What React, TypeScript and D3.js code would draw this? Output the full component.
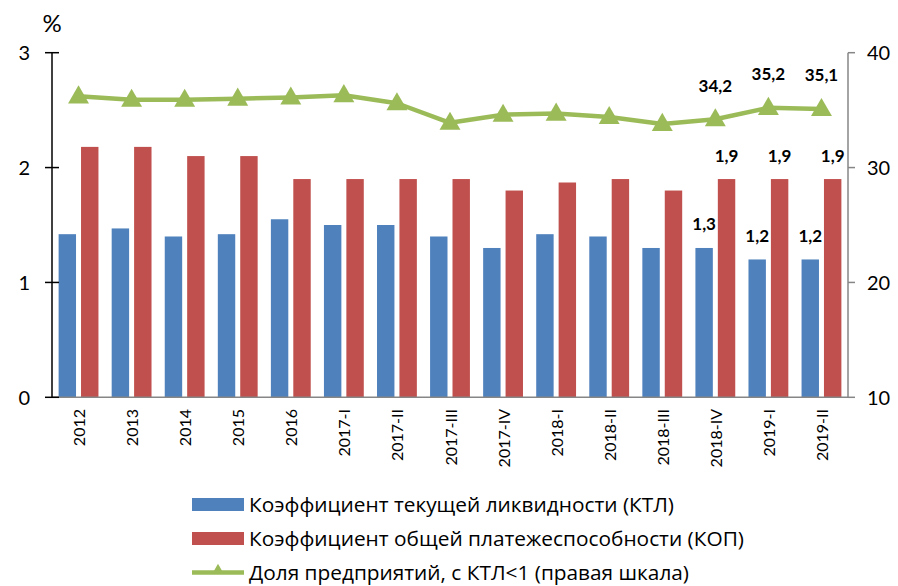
import React from "react";
import * as d3 from "d3";

const categories = ["2012","2013","2014","2015","2016","2017-I","2017-II","2017-III","2017-IV","2018-I","2018-II","2018-III","2018-IV","2019-I","2019-II"];
const ktl = [1.42,1.47,1.40,1.42,1.55,1.50,1.50,1.40,1.30,1.42,1.40,1.30,1.30,1.20,1.20];
const kop = [2.18,2.18,2.10,2.10,1.90,1.90,1.90,1.90,1.80,1.87,1.90,1.80,1.90,1.90,1.90];
const share = [36.2,35.9,35.9,36.0,36.1,36.3,35.6,33.9,34.6,34.7,34.4,33.8,34.2,35.2,35.1];
const ktlLabels = ["","","","","","","","","","","","","1,3","1,2","1,2"];
const kopLabels = ["","","","","","","","","","","","","1,9","1,9","1,9"];
const shareLabels = ["","","","","","","","","","","","","34,2","35,2","35,1"];
const leftTicks = [0,1,2,3];
const rightTicks = [10,20,30,40];
const legendItems = [
  "Коэффициент текущей ликвидности (КТЛ)",
  "Коэффициент общей платежеспособности (КОП)",
  "Доля предприятий, с КТЛ<1 (правая шкала)",
];
const legendWidths = [425, 495, 440];

const BLUE = "#4F81BD";
const RED = "#C0504D";
const GREEN = "#9BBB59";
const FONT = "Lato, 'Open Sans', sans-serif";
const LEGEND_FONT = "'Open Sans', 'Noto Sans', sans-serif";

export default function App() {
  const W = 898, H = 586;
  const x0 = 52, x1 = 848, yTop = 52.7, yBot = 397.3;
  const x = d3.scaleBand<string>().domain(categories).range([x0, x1]).padding(0);
  const inner = d3.scaleBand<string>().domain(["ktl","kop"]).range([0, x.bandwidth()]).paddingInner(0.223).paddingOuter(0.295);
  const yL = d3.scaleLinear().domain([0,3]).range([yBot, yTop]);
  const yR = d3.scaleLinear().domain([10,40]).range([yBot, yTop]);
  const line = d3.line<number>().x((_, i) => x(categories[i])! + x.bandwidth()/2).y(d => yR(d));
  const tri = d3.symbol().type(d3.symbolTriangle).size(190);
  const triSmall = d3.symbol().type(d3.symbolTriangle).size(60);

  return (
    <svg width={W} height={H} style={{position:"absolute", left:0, top:0}} fontFamily={FONT}>
      <rect width={W} height={H} fill="#fff" />
      {/* bars */}
      {categories.map((c, i) => (
        <g key={c}>
          <rect x={x(c)! + inner("ktl")!} y={yL(ktl[i])} width={inner.bandwidth()} height={yL(0) - yL(ktl[i])} fill={BLUE} />
          <rect x={x(c)! + inner("kop")!} y={yL(kop[i])} width={inner.bandwidth()} height={yL(0) - yL(kop[i])} fill={RED} />
          {ktlLabels[i] && <text x={x(c)! + inner("ktl")! + inner.bandwidth()/2} y={yL(ktl[i]) - 17.5} textAnchor="middle" fontSize={17} fontWeight="bold">{ktlLabels[i]}</text>}
          {kopLabels[i] && <text x={x(c)! + inner("kop")! + inner.bandwidth()/2} y={yL(kop[i]) - 17.5} textAnchor="middle" fontSize={17} fontWeight="bold">{kopLabels[i]}</text>}
        </g>
      ))}
      {/* bottom axis */}
      <line x1={x0} x2={x1} y1={yBot} y2={yBot} stroke="#868686" strokeWidth={1.5} />
      {/* left axis */}
      <line x1={x0} x2={x0} y1={yTop} y2={yBot} stroke="#000" strokeWidth={1.5} />
      {leftTicks.map(t => (
        <g key={t}>
          <line x1={x0 - 7} x2={x0 + 7} y1={yL(t)} y2={yL(t)} stroke="#000" strokeWidth={1.5} />
          <text x={30} y={yL(t) + 7.3} textAnchor="end" fontSize={20}>{t}</text>
        </g>
      ))}
      <text x={52} y={32} textAnchor="middle" fontSize={24}>%</text>
      {/* right axis */}
      <line x1={x1} x2={x1} y1={yTop} y2={yBot} stroke="#868686" strokeWidth={1.5} />
      {rightTicks.map(t => (
        <g key={t}>
          <line x1={x1} x2={x1 + 7} y1={yR(t)} y2={yR(t)} stroke="#868686" strokeWidth={1.5} />
          <text x={867} y={yR(t) + 7.3} textAnchor="start" fontSize={20}>{t}</text>
        </g>
      ))}
      {/* x labels */}
      {categories.map(c => (
        <text key={c} transform={`translate(${x(c)! + x.bandwidth()/2 + 6.5},409) rotate(-90)`} textAnchor="end" fontSize={16}>{c}</text>
      ))}
      {/* line */}
      <path d={line(share)!} fill="none" stroke={GREEN} strokeWidth={4.5} strokeLinejoin="round" />
      {share.map((v, i) => (
        <path key={i} d={tri()!} transform={`translate(${x(categories[i])! + x.bandwidth()/2},${yR(v) + 1})`} fill={GREEN} />
      ))}
      {share.map((v, i) => shareLabels[i] ? (
        <text key={"s"+i} x={x(categories[i])! + x.bandwidth()/2} y={yR(v) - 27.5} textAnchor="middle" fontSize={17} fontWeight="bold">{shareLabels[i]}</text>
      ) : null)}
      {/* legend */}
      {legendItems.map((t, i) => {
        const cy = 504.5 + i * 34;
        return (
          <g key={t}>
            {i < 2 ? (
              <rect x={192} y={cy - 6.5} width={52} height={13} fill={i === 0 ? BLUE : RED} />
            ) : (
              <g>
                <line x1={192} x2={244} y1={cy} y2={cy} stroke={GREEN} strokeWidth={4.5} />
                <path d={triSmall()!} transform={`translate(218,${cy - 2})`} fill={GREEN} />
              </g>
            )}
            <text x={249} y={cy + 7.5} fontSize={20} fontFamily={LEGEND_FONT} textLength={legendWidths[i]} lengthAdjust="spacingAndGlyphs">{t}</text>
          </g>
        );
      })}
    </svg>
  );
}
